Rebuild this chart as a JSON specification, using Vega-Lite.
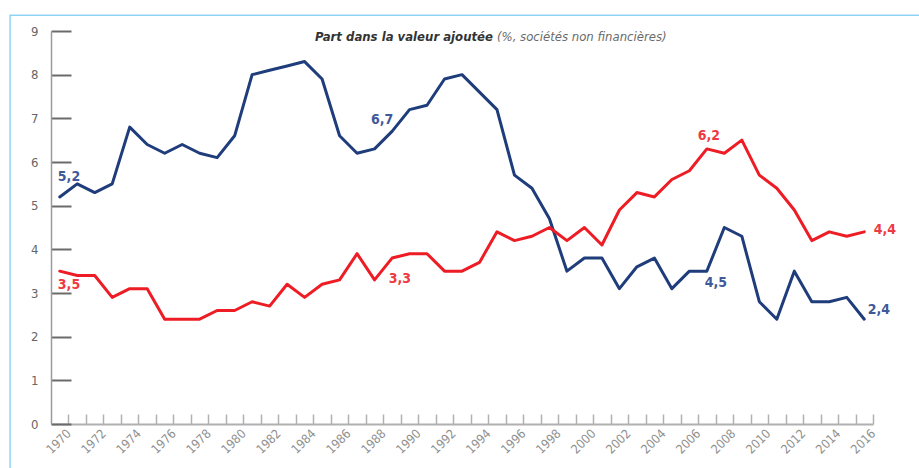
{
  "$schema": "https://vega.github.io/schema/vega-lite/v6.json",
  "width": 822,
  "height": 393,
  "autosize": "none",
  "padding": {"left": 51, "top": 31, "right": 46, "bottom": 44},
  "background": "white",
  "config": {"view": {"stroke": null}, "font": "DejaVu Sans Condensed, Roboto, sans-serif"},
  "datasets": {
    "series": [
      {"annee":1970,"serie":"A","valeur":5.2},{"annee":1971,"serie":"A","valeur":5.5},{"annee":1972,"serie":"A","valeur":5.3},{"annee":1973,"serie":"A","valeur":5.5},{"annee":1974,"serie":"A","valeur":6.8},{"annee":1975,"serie":"A","valeur":6.4},{"annee":1976,"serie":"A","valeur":6.2},{"annee":1977,"serie":"A","valeur":6.4},{"annee":1978,"serie":"A","valeur":6.2},{"annee":1979,"serie":"A","valeur":6.1},{"annee":1980,"serie":"A","valeur":6.6},{"annee":1981,"serie":"A","valeur":8.0},{"annee":1982,"serie":"A","valeur":8.1},{"annee":1983,"serie":"A","valeur":8.2},{"annee":1984,"serie":"A","valeur":8.3},{"annee":1985,"serie":"A","valeur":7.9},{"annee":1986,"serie":"A","valeur":6.6},{"annee":1987,"serie":"A","valeur":6.2},{"annee":1988,"serie":"A","valeur":6.3},{"annee":1989,"serie":"A","valeur":6.7},{"annee":1990,"serie":"A","valeur":7.2},{"annee":1991,"serie":"A","valeur":7.3},{"annee":1992,"serie":"A","valeur":7.9},{"annee":1993,"serie":"A","valeur":8.0},{"annee":1994,"serie":"A","valeur":7.6},{"annee":1995,"serie":"A","valeur":7.2},{"annee":1996,"serie":"A","valeur":5.7},{"annee":1997,"serie":"A","valeur":5.4},{"annee":1998,"serie":"A","valeur":4.7},{"annee":1999,"serie":"A","valeur":3.5},{"annee":2000,"serie":"A","valeur":3.8},{"annee":2001,"serie":"A","valeur":3.8},{"annee":2002,"serie":"A","valeur":3.1},{"annee":2003,"serie":"A","valeur":3.6},{"annee":2004,"serie":"A","valeur":3.8},{"annee":2005,"serie":"A","valeur":3.1},{"annee":2006,"serie":"A","valeur":3.5},{"annee":2007,"serie":"A","valeur":3.5},{"annee":2008,"serie":"A","valeur":4.5},{"annee":2009,"serie":"A","valeur":4.3},{"annee":2010,"serie":"A","valeur":2.8},{"annee":2011,"serie":"A","valeur":2.4},{"annee":2012,"serie":"A","valeur":3.5},{"annee":2013,"serie":"A","valeur":2.8},{"annee":2014,"serie":"A","valeur":2.8},{"annee":2015,"serie":"A","valeur":2.9},{"annee":2016,"serie":"A","valeur":2.4},
      {"annee":1970,"serie":"B","valeur":3.5},{"annee":1971,"serie":"B","valeur":3.4},{"annee":1972,"serie":"B","valeur":3.4},{"annee":1973,"serie":"B","valeur":2.9},{"annee":1974,"serie":"B","valeur":3.1},{"annee":1975,"serie":"B","valeur":3.1},{"annee":1976,"serie":"B","valeur":2.4},{"annee":1977,"serie":"B","valeur":2.4},{"annee":1978,"serie":"B","valeur":2.4},{"annee":1979,"serie":"B","valeur":2.6},{"annee":1980,"serie":"B","valeur":2.6},{"annee":1981,"serie":"B","valeur":2.8},{"annee":1982,"serie":"B","valeur":2.7},{"annee":1983,"serie":"B","valeur":3.2},{"annee":1984,"serie":"B","valeur":2.9},{"annee":1985,"serie":"B","valeur":3.2},{"annee":1986,"serie":"B","valeur":3.3},{"annee":1987,"serie":"B","valeur":3.9},{"annee":1988,"serie":"B","valeur":3.3},{"annee":1989,"serie":"B","valeur":3.8},{"annee":1990,"serie":"B","valeur":3.9},{"annee":1991,"serie":"B","valeur":3.9},{"annee":1992,"serie":"B","valeur":3.5},{"annee":1993,"serie":"B","valeur":3.5},{"annee":1994,"serie":"B","valeur":3.7},{"annee":1995,"serie":"B","valeur":4.4},{"annee":1996,"serie":"B","valeur":4.2},{"annee":1997,"serie":"B","valeur":4.3},{"annee":1998,"serie":"B","valeur":4.5},{"annee":1999,"serie":"B","valeur":4.2},{"annee":2000,"serie":"B","valeur":4.5},{"annee":2001,"serie":"B","valeur":4.1},{"annee":2002,"serie":"B","valeur":4.9},{"annee":2003,"serie":"B","valeur":5.3},{"annee":2004,"serie":"B","valeur":5.2},{"annee":2005,"serie":"B","valeur":5.6},{"annee":2006,"serie":"B","valeur":5.8},{"annee":2007,"serie":"B","valeur":6.3},{"annee":2008,"serie":"B","valeur":6.2},{"annee":2009,"serie":"B","valeur":6.5},{"annee":2010,"serie":"B","valeur":5.7},{"annee":2011,"serie":"B","valeur":5.4},{"annee":2012,"serie":"B","valeur":4.9},{"annee":2013,"serie":"B","valeur":4.2},{"annee":2014,"serie":"B","valeur":4.4},{"annee":2015,"serie":"B","valeur":4.3},{"annee":2016,"serie":"B","valeur":4.4}
    ],
    "etiquettes": [
      {"annee":1970.53,"niveau":5.66,"texte":"5,2","serie":"A"},
      {"annee":1988.43,"niveau":6.96,"texte":"6,7","serie":"A"},
      {"annee":2007.52,"niveau":3.23,"texte":"4,5","serie":"A"},
      {"annee":2016.84,"niveau":2.61,"texte":"2,4","serie":"A"},
      {"annee":1970.53,"niveau":3.18,"texte":"3,5","serie":"B"},
      {"annee":1989.45,"niveau":3.32,"texte":"3,3","serie":"B"},
      {"annee":2007.12,"niveau":6.59,"texte":"6,2","serie":"B"},
      {"annee":2017.18,"niveau":4.44,"texte":"4,4","serie":"B"}
    ]
  },
  "resolve": {"scale": {"color": "independent"}, "axis": {"x": "independent"}},
  "layer": [
    {
      "data": {"values": [{}]},
      "mark": {"type": "rect", "fillOpacity": 0, "stroke": "#8fd4f5", "strokeWidth": 1.5, "clip": false},
      "encoding": {
        "x": {"datum": 1967.16, "type": "quantitative", "scale": {"domain": [1969.5, 2016.5], "nice": false, "zero": false}, "axis": null},
        "x2": {"datum": 2035},
        "y": {"datum": 9.36, "type": "quantitative", "scale": {"domain": [0, 9], "nice": false}, "title": null},
        "y2": {"datum": -3}
      }
    },
    {
      "data": {"name": "series"},
      "mark": {"type": "line", "strokeWidth": 3, "strokeJoin": "round", "strokeCap": "round"},
      "encoding": {
        "x": {
          "field": "annee", "type": "quantitative",
          "scale": {"domain": [1969.5, 2016.5], "nice": false, "zero": false},
          "axis": {
            "orient": "bottom",
            "title": null, "grid": false, "labels": false,
            "values": [1970.5,1971.5,1972.5,1973.5,1974.5,1975.5,1976.5,1977.5,1978.5,1979.5,1980.5,1981.5,1982.5,1983.5,1984.5,1985.5,1986.5,1987.5,1988.5,1989.5,1990.5,1991.5,1992.5,1993.5,1994.5,1995.5,1996.5,1997.5,1998.5,1999.5,2000.5,2001.5,2002.5,2003.5,2004.5,2005.5,2006.5,2007.5,2008.5,2009.5,2010.5,2011.5,2012.5,2013.5,2014.5,2015.5,2016.5],
            "tickSize": -10,
            "domainColor": "#b0b0b0", "domainWidth": 2,
            "tickColor": "#b0b0b0", "tickWidth": 1.5
          }
        },
        "y": {
          "field": "valeur", "type": "quantitative",
          "scale": {"domain": [0, 9], "nice": false},
          "title": null,
          "axis": {
            "title": null, "grid": false,
            "values": [0,1,2,3,4,5,6,7,8,9],
            "tickSize": -20, "labelPadding": 33,
            "domainColor": "#9a9a9a", "domainWidth": 1.5,
            "tickColor": "#6a6a6a", "tickWidth": 2,
            "labelColor": "#666666", "labelFontSize": 13
          }
        },
        "color": {
          "field": "serie", "type": "nominal",
          "scale": {"domain": ["A", "B"], "range": ["#1f3c7b", "#ee1c24"]},
          "legend": null
        }
      }
    },
    {
      "data": {"name": "etiquettes"},
      "mark": {"type": "text", "fontWeight": "bold", "fontSize": 14, "align": "center", "baseline": "middle"},
      "encoding": {
        "x": {
          "field": "annee", "type": "quantitative",
          "axis": {
            "orient": "bottom",
            "title": null, "grid": false, "domain": false, "ticks": false,
            "values": [1970.5,1972.5,1974.5,1976.5,1978.5,1980.5,1982.5,1984.5,1986.5,1988.5,1990.5,1992.5,1994.5,1996.5,1998.5,2000.5,2002.5,2004.5,2006.5,2008.5,2010.5,2012.5,2014.5,2016.5],
            "labelExpr": "toString(floor(datum.value))",
            "labelAngle": -45, "labelAlign": "right", "labelBaseline": "middle",
            "labelOverlap": false, "labelFlush": false, "labelBound": false,
            "labelPadding": 7,
            "labelColor": "#8f8f8f", "labelFontSize": 12.5
          }
        },
        "y": {"field": "niveau", "type": "quantitative", "title": null},
        "text": {"field": "texte"},
        "color": {
          "field": "serie", "type": "nominal",
          "scale": {"domain": ["A", "B"], "range": ["#40599a", "#ee3a42"]},
          "legend": null
        }
      }
    },
    {
      "data": {"values": [{}]},
      "mark": {"type": "text", "text": "Part dans la valeur ajoutée", "fontWeight": "bold", "fontStyle": "italic", "fontSize": 13, "align": "right", "baseline": "middle", "color": "#333333"},
      "encoding": {
        "x": {"datum": 1994.77, "type": "quantitative", "axis": null},
        "y": {"datum": 8.86, "type": "quantitative", "title": null}
      }
    },
    {
      "data": {"values": [{}]},
      "mark": {"type": "text", "text": "(%, sociétés non financières)", "fontStyle": "italic", "fontSize": 13, "align": "left", "baseline": "middle", "color": "#6a6a6a"},
      "encoding": {
        "x": {"datum": 1995.0, "type": "quantitative", "axis": null},
        "y": {"datum": 8.86, "type": "quantitative", "title": null}
      }
    }
  ]
}
